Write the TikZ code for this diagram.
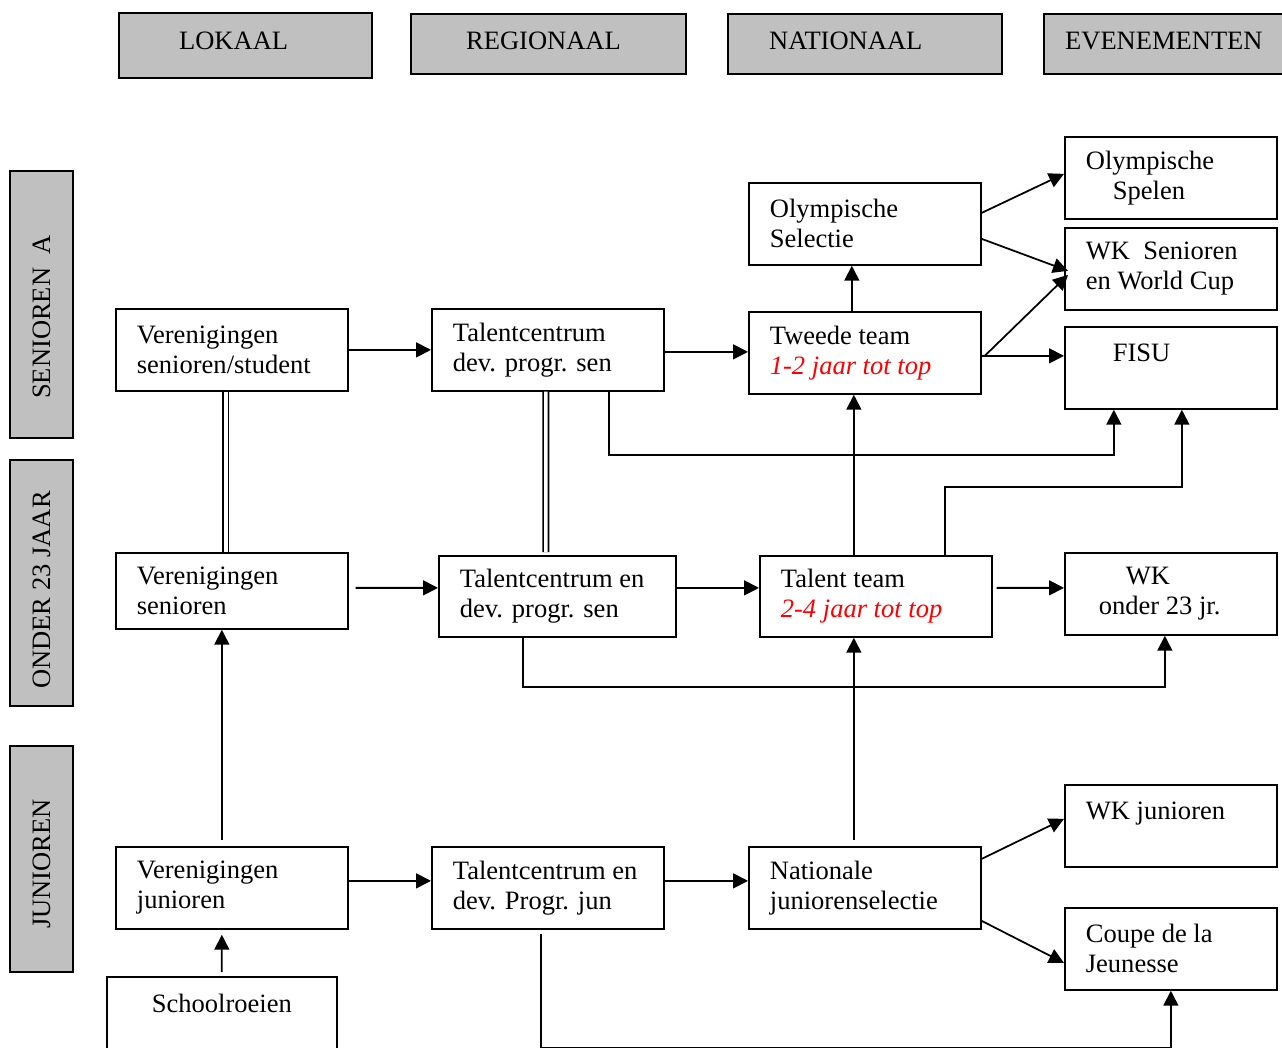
\documentclass[tikz,border=0pt]{standalone}
\usepackage{fontspec}
\setmainfont{Liberation Serif}
\usetikzlibrary{calc,arrows.meta}
\definecolor{grijs}{HTML}{C0C0C0}

\begin{document}
\begin{tikzpicture}[x=0.02cm, y=-0.02cm, line width=1pt]
	\tikzstyle{tekst} = [font=\fontsize{15.1pt}{17.1pt}\selectfont]
	\tikzstyle{blok} = [draw, tekst, anchor=north west, align=flush left, inner xsep=0.42cm, inner ysep=0pt, text width=3.8cm, minimum height=1.64cm]
	\tikzstyle{kop} = [draw, tekst, fill=grijs, line width=1.3pt, anchor=north west, align=flush left, inner ysep=0pt, text height=0.7cm, text depth=0.5cm]
	\tikzstyle{zij} = [draw, tekst, fill=grijs, line width=1.3pt, rotate=90, inner sep=0pt, minimum height=1.26cm]
	\tikzstyle{pijl} = [-{Triangle[length=0.3cm, width=0.3cm]}]
	\tikzstyle{dubbel} = [double, double distance=0.07cm, line width=1pt]
	\clip (0,0) rectangle (1282,1048);
	\node[kop, inner xsep=1.2cm, text width=2.66cm, text height=0.72cm, text depth=0.58cm] (lok) at (118,12) {LOKAAL};
	\node[kop, inner xsep=1.1cm, text width=3.3cm] (reg) at (410,13) {REGIONAAL};
	\node[kop, inner xsep=0.82cm, text width=3.84cm] (nat) at (727,13) {NATIONAAL};
	\node[kop, inner xsep=0.42cm, text width=3.96cm] (eve) at (1043,13) {EVENEMENTEN};
	\node[zij, minimum width=5.34cm] (sen) at (41.5,304.5) {SENIOREN~\ A\hspace*{0.5cm}};
	\node[zij, minimum width=4.92cm] (o23) at (41.5,583) {ONDER 23 JAAR\hspace*{0.28cm}};
	\node[zij, minimum width=4.52cm] (jun) at (41.5,859) {JUNIOREN\hspace*{0.2cm}};
	\node[blok] (vs) at (115,308) {Verenigingen\\senioren/student};
	\node[blok] (ts) at (431,308) {Talentcentrum\\dev. progr. sen};
	\node[blok] (tt) at (748,311) {Tweede team\\\textcolor{red}{\itshape 1-2 jaar tot top}};
	\node[blok] (os) at (748,182) {Olympische\\Selectie};
	\node[blok, text width=3.4cm] (osp) at (1064,136) {Olympische\\\hspace*{0.54cm}Spelen};
	\node[blok, text width=3.4cm] (wk) at (1064,227) {WK~ Senioren\\en World Cup};
	\node[blok, text width=3.4cm] (fisu) at (1064,326) {\hspace*{0.54cm}FISU\\~};
	\node[blok, minimum height=1.52cm] (vs2) at (115,552) {Verenigingen\\senioren};
	\node[blok, text width=3.9cm, minimum height=1.62cm] (ts2) at (438,555) {Talentcentrum en\\dev. progr. sen};
	\node[blok, minimum height=1.62cm] (tt2) at (759,555) {Talent team\\\textcolor{red}{\itshape 2-4 jaar tot top}};
	\node[blok, text width=3.4cm] (wk23) at (1064,552) {\hspace*{0.8cm}WK\\\hspace*{0.26cm}onder 23 jr.};
	\node[blok] (vj) at (115,846) {Verenigingen\\junioren};
	\node[blok] (tj) at (431,846) {Talentcentrum en\\dev. Progr. jun};
	\node[blok] (nj) at (748,846) {Nationale\\juniorenselectie};
	\node[blok, text width=3.4cm] (wkj) at (1064,784) {WK junioren\\~};
	\node[blok, text width=3.4cm] (cj) at (1064,907) {Coupe de la\\Jeunesse};
	\node[blok, align=flush center, text width=3.76cm] (sr) at (106,976) {Schoolroeien\\~};
	\coordinate (ttuit) at ($(tt.east)+(3,3)$);
	\draw[pijl] (vs.east) -- (ts.west);
	\draw[pijl] ($(ts.east)+(0,2)$) -- ($(tt.west)+(0,-1)$);
	\draw[pijl] ($(tt.north)+(-13,0)$) -- ($(os.south)+(-13,0)$);
	\draw[pijl] ($(os.east)+(0,-11)$) -- ($(osp.west)+(0,-4)$);
	\draw[pijl] ($(os.east)+(0,15)$) -- ($(wk.west)+(4,2)$);
	\draw[pijl] ($(tt.east)+(0,3)$) -- (ttuit) -- ($(wk.west)+(4,6)$);
	\draw[pijl] ($(tt.east)+(0,3)$) -- (ttuit -| fisu.west);
	\draw[pijl] ($(ts.south)+(61,0)$) -- ++(0,63) -| ($(fisu.south)+(-57,0)$);
	\draw[pijl] ($(tt2.north)+(69,0)$) -- ++(0,-68) -| ($(fisu.south)+(11,0)$);
	\draw[pijl] ($(tt2.north)+(-22,0)$) -- ($(tt.south)+(-11,0)$);
	\draw[dubbel] ($(vs.south)+(-6,0)$) -- ($(vs2.north)+(-6,0)$);
	\draw[dubbel] ($(ts.south)+(-2,0)$) -- ($(ts2.north)+(-11.5,-3)$);
	\draw[pijl] ($(vs2.east)+(7,-3)$) -- ($(ts2.west)+(0,-8.5)$);
	\draw[pijl] ($(ts2.east)+(0,-8.5)$) -- ($(tt2.west)+(0,-8.5)$);
	\draw[pijl] ($(tt2.east)+(4,-8.5)$) -- ($(wk23.west)+(0,-6)$);
	\draw[pijl] ($(ts2.south)+(-34.5,0)$) -- ++(0,49) -| ($(wk23.south)+(-6,0)$);
	\draw[pijl] ($(vj.north)+(-10,-6)$) -- ($(vs2.south)+(-10,0)$);
	\draw[pijl] ($(nj.north)+(-11,-6)$) -- ($(tt2.south)+(-22,0)$);
	\draw[pijl] ($(vj.east)+(0,-7)$) -- ($(tj.west)+(0,-7)$);
	\draw[pijl] ($(tj.east)+(0,-7)$) -- ($(nj.west)+(0,-7)$);
	\draw[pijl] ($(nj.east)+(0,-29)$) -- ($(wkj.west)+(0,-7)$);
	\draw[pijl] ($(nj.east)+(0,33)$) -- ($(cj.west)+(0,14)$);
	\draw[pijl] ($(sr.north)+(0,-4)$) -- ($(vj.south)+(-10,5)$);
	\draw[pijl] ($(tj.south)+(-7,4)$) -- ++(0,114) -| (cj.south);
\end{tikzpicture}
\end{document}
